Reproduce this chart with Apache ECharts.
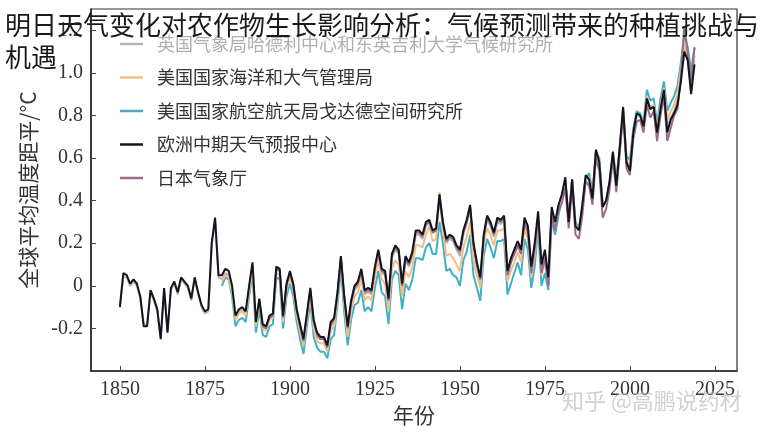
<!DOCTYPE html>
<html><head><meta charset="utf-8">
<script src="https://cdn.jsdelivr.net/npm/echarts@6/dist/echarts.min.js"></script>
<style>html,body{margin:0;padding:0;background:#fff}#c{width:765px;height:433px}</style>
</head><body><div id="c"></div>
<script>
const titleText = '明日天气变化对农作物生长影响分析：气候预测带来的种植挑战与机遇';
const seriesNames = ['英国气象局哈德利中心和东英吉利大学气候研究所','美国国家海洋和大气管理局','美国国家航空航天局戈达德空间研究所','欧洲中期天气预报中心','日本气象厅'];
const xTicks = [1850,1875,1900,1925,1950,1975,2000,2025];
const yTicks = [-0.2,0,0.2,0.4,0.6,0.8,1.0,1.2];

const hadStart = 1850;
const hadcrut = [
-0.09,0.04,0.04,0.00,0.02,0.00,-0.06,-0.18,-0.18,-0.03,
-0.07,-0.12,-0.24,-0.02,-0.21,-0.02,0.01,-0.04,0.03,0.01,
-0.01,-0.07,0.03,-0.04,-0.10,-0.13,-0.12,0.19,0.30,0.04,
0.03,0.06,0.05,-0.02,-0.15,-0.12,-0.11,-0.13,-0.01,0.10,
-0.18,-0.07,-0.19,-0.20,-0.15,-0.14,0.08,0.07,-0.15,0.00,
0.06,-0.01,-0.12,-0.20,-0.26,-0.15,-0.03,-0.18,-0.24,-0.25,
-0.25,-0.29,-0.19,-0.17,-0.04,0.13,-0.07,-0.21,-0.09,-0.02,
0.00,0.06,-0.04,-0.03,-0.04,0.07,0.15,0.06,0.05,-0.08,
0.13,0.17,0.15,-0.01,0.12,0.09,0.14,0.24,0.24,0.22,
0.28,0.30,0.25,0.26,0.41,0.29,0.20,0.22,0.21,0.17,
0.14,0.24,0.29,0.36,0.18,0.09,0.02,0.22,0.31,0.28,
0.23,0.30,0.29,0.31,0.05,0.11,0.15,0.19,0.15,0.30,
0.26,0.07,0.18,0.33,0.08,0.15,0.02,0.35,0.28,0.37,
0.42,0.50,0.30,0.50,0.28,0.26,0.37,0.51,0.50,0.41,
0.63,0.57,0.37,0.40,0.48,0.62,0.47,0.64,0.83,0.58,
0.55,0.71,0.80,0.80,0.75,0.87,0.83,0.84,0.72,0.83,
0.91,0.75,0.79,0.82,0.87,1.00,1.14,1.06,0.94,1.06];

const noaaStart = 1880;
const noaa = [
0.02,0.05,0.04,-0.03,-0.16,-0.13,-0.12,-0.14,-0.02,0.08,
-0.19,-0.08,-0.20,-0.21,-0.16,-0.15,0.06,0.05,-0.17,-0.02,
0.04,-0.02,-0.14,-0.22,-0.28,-0.16,-0.05,-0.20,-0.26,-0.27,
-0.27,-0.31,-0.21,-0.19,-0.06,0.12,-0.09,-0.24,-0.12,-0.05,
-0.03,0.03,-0.07,-0.05,-0.07,0.04,0.12,0.03,0.01,-0.12,
0.08,0.12,0.10,-0.05,0.07,0.04,0.09,0.19,0.19,0.18,
0.24,0.28,0.21,0.22,0.44,0.27,0.14,0.15,0.13,0.10,
0.07,0.18,0.23,0.30,0.12,0.05,-0.01,0.19,0.27,0.24,
0.19,0.26,0.26,0.27,0.02,0.07,0.11,0.16,0.11,0.27,
0.22,0.04,0.14,0.31,0.05,0.11,0.01,0.34,0.27,0.35,
0.42,0.49,0.31,0.50,0.29,0.26,0.37,0.51,0.51,0.42,
0.63,0.58,0.38,0.40,0.48,0.62,0.49,0.64,0.84,0.59,
0.56,0.72,0.80,0.80,0.76,0.89,0.84,0.85,0.74,0.84,
0.93,0.78,0.82,0.85,0.90,1.02,1.14,1.08,0.96,1.08];

const nasaStart = 1880;
const nasa = [
0.00,0.04,0.03,-0.05,-0.19,-0.16,-0.15,-0.17,-0.05,0.06,
-0.22,-0.11,-0.23,-0.24,-0.19,-0.18,0.04,0.03,-0.20,-0.05,
0.01,-0.05,-0.17,-0.25,-0.32,-0.19,-0.08,-0.24,-0.29,-0.31,
-0.31,-0.34,-0.25,-0.23,-0.09,0.08,-0.13,-0.28,-0.16,-0.09,
-0.08,-0.02,-0.12,-0.10,-0.12,-0.01,0.07,-0.03,-0.05,-0.18,
0.03,0.07,0.05,-0.11,0.01,-0.02,0.03,0.13,0.13,0.12,
0.18,0.20,0.15,0.15,0.30,0.20,0.07,0.08,0.05,0.04,
0.00,0.12,0.16,0.24,0.05,-0.01,-0.07,0.14,0.22,0.18,
0.13,0.21,0.21,0.22,-0.04,0.01,0.06,0.11,0.05,0.22,
0.17,-0.01,0.09,0.27,0.00,0.06,-0.02,0.31,0.24,0.33,
0.41,0.49,0.31,0.50,0.30,0.27,0.36,0.50,0.53,0.44,
0.63,0.60,0.38,0.40,0.48,0.62,0.51,0.64,0.82,0.61,
0.59,0.74,0.82,0.81,0.77,0.92,0.87,0.88,0.76,0.88,
0.96,0.82,0.86,0.89,0.94,1.05,1.18,1.12,1.01,1.12];

const ecmwfStart = 1850;
const ecmwf = [
-0.10,0.06,0.05,0.01,0.03,0.01,-0.05,-0.19,-0.19,-0.02,
-0.06,-0.11,-0.25,-0.01,-0.22,-0.01,0.02,-0.03,0.04,0.02,
0.00,-0.06,0.04,-0.03,-0.09,-0.12,-0.11,0.20,0.32,0.05,
0.05,0.08,0.07,0.00,-0.14,-0.11,-0.10,-0.12,0.00,0.11,
-0.17,-0.06,-0.18,-0.19,-0.14,-0.13,0.09,0.08,-0.14,0.01,
0.07,0.01,-0.11,-0.18,-0.25,-0.13,-0.01,-0.16,-0.22,-0.24,
-0.24,-0.28,-0.17,-0.15,-0.03,0.14,-0.05,-0.19,-0.07,0.00,
0.02,0.08,-0.02,-0.01,-0.02,0.09,0.17,0.08,0.07,-0.06,
0.15,0.19,0.17,0.01,0.14,0.11,0.16,0.26,0.26,0.24,
0.30,0.31,0.26,0.27,0.43,0.30,0.22,0.24,0.23,0.19,
0.17,0.26,0.31,0.38,0.20,0.11,0.04,0.24,0.33,0.30,
0.25,0.32,0.31,0.33,0.07,0.13,0.17,0.21,0.17,0.32,
0.28,0.09,0.20,0.35,0.10,0.17,0.04,0.37,0.30,0.38,
0.43,0.51,0.30,0.50,0.28,0.26,0.38,0.52,0.50,0.41,
0.64,0.58,0.37,0.40,0.49,0.63,0.47,0.65,0.84,0.58,
0.54,0.72,0.81,0.80,0.75,0.88,0.83,0.84,0.72,0.83,
0.92,0.72,0.78,0.81,0.85,0.96,1.10,1.06,0.90,1.04];

const jmaStart = 1891;
const jma = [
-0.07,-0.19,-0.20,-0.15,-0.14,0.08,0.07,-0.15,0.00,
0.06,0.00,-0.12,-0.19,-0.26,-0.14,-0.02,-0.17,-0.23,-0.25,
-0.25,-0.29,-0.18,-0.16,-0.04,0.13,-0.06,-0.20,-0.08,-0.01,
0.01,0.07,-0.03,-0.02,-0.03,0.08,0.16,0.07,0.06,-0.07,
0.14,0.18,0.16,0.00,0.13,0.10,0.15,0.25,0.25,0.23,
0.29,0.30,0.25,0.26,0.41,0.29,0.21,0.23,0.22,0.18,
0.16,0.25,0.30,0.37,0.19,0.10,0.03,0.23,0.32,0.29,
0.24,0.31,0.30,0.32,0.05,0.11,0.15,0.19,0.15,0.30,
0.25,0.06,0.17,0.32,0.06,0.13,0.00,0.33,0.26,0.35,
0.39,0.46,0.27,0.47,0.24,0.22,0.33,0.49,0.47,0.38,
0.60,0.54,0.32,0.36,0.45,0.60,0.44,0.62,0.82,0.55,
0.52,0.69,0.77,0.78,0.72,0.85,0.79,0.82,0.68,0.80,
0.89,0.68,0.74,0.80,0.83,0.98,1.22,1.10,0.96,1.12];

function pairs(start, arr){ return arr.map((v,i)=>[start+i, v]); }

const colors = ['#b4b4b4','#f0c088','#3fb0c6','#14141e','#9a6c8c'];
const chart = echarts.init(document.getElementById('c'), null, {renderer:'canvas'});
const serif = '"Liberation Serif", "DejaVu Serif", serif';
const cjk = '"Noto Sans CJK SC", "Noto Sans", sans-serif';

function mk(i, start, arr, z, w){
  return {name: seriesNames[i], type:'line', data: pairs(start, arr), showSymbol:false, symbol:'none',
    lineStyle:{color: colors[i], width: w}, itemStyle:{color: colors[i]}, z: z, animation:false};
}

chart.setOption({
  backgroundColor:'#fff',
  animation:false,
  title:{text:titleText, left:5, top:9, padding:0, z:20,
    textStyle:{fontFamily:cjk, fontSize:26, fontWeight:'normal', color:'#1a1a1a', lineHeight:32, width:758, overflow:'break'}},
  legend:{orient:'vertical', left:120, top:34, padding:0, itemGap:13.5, itemWidth:23, itemHeight:2.5, icon:'rect',
    textStyle:{fontFamily:cjk, fontSize:18, color:'#333', lineHeight:20, padding:[0,0,0,9]},
    data:[
      {name:seriesNames[0], textStyle:{color:'#b0b0b0'}},
      {name:seriesNames[1]},
      {name:seriesNames[2]},
      {name:seriesNames[3]},
      {name:seriesNames[4]}
    ]},
  grid:{left:91, right:28, top:9, bottom:62, show:true, borderColor:'#333', borderWidth:1.2},
  xAxis:{type:'value', min:1841.5, max:2031.5,
    name:'年份', nameLocation:'middle', nameGap:32,
    nameTextStyle:{fontFamily:cjk, fontSize:21, color:'#333'},
    axisLine:{show:true, onZero:false, lineStyle:{color:'#222', width:1.5}},
    axisTick:{show:true, inside:true, length:5, lineStyle:{color:'#444'}, customValues:xTicks},
    axisLabel:{fontFamily:serif, fontSize:20, color:'#333', margin:9, customValues:xTicks, formatter:v=>String(v)},
    splitLine:{show:false}},
  yAxis:{type:'value', min:-0.4, max:1.3,
    name:'全球平均温度距平/°C', nameLocation:'middle', nameGap:52, nameRotate:90,
    nameTextStyle:{fontFamily:cjk, fontSize:21, color:'#333'},
    axisLine:{show:true, onZero:false, lineStyle:{color:'#222', width:1.5}},
    axisTick:{show:true, inside:true, length:5, lineStyle:{color:'#444'}, customValues:yTicks},
    axisLabel:{fontFamily:serif, fontSize:20, color:'#333', margin:8, customValues:yTicks,
      formatter:v=> Math.abs(v)<1e-9 ? '0' : (Math.round(v*10)/10).toFixed(1)},
    splitLine:{show:false}},
  graphic:[{type:'text', left:562, top:390, z:30,
    style:{text:'知乎 @高鹏说药材', font:'22px "Noto Sans CJK SC", sans-serif', fill:'rgba(170,170,170,0.55)'}}],
  series:[
    mk(0, hadStart, hadcrut, 2, 2),
    mk(2, nasaStart, nasa, 3, 2),
    mk(1, noaaStart, noaa, 4, 2),
    mk(4, jmaStart, jma, 5, 2),
    mk(3, ecmwfStart, ecmwf, 6, 2)
  ]
});
</script></body></html>
